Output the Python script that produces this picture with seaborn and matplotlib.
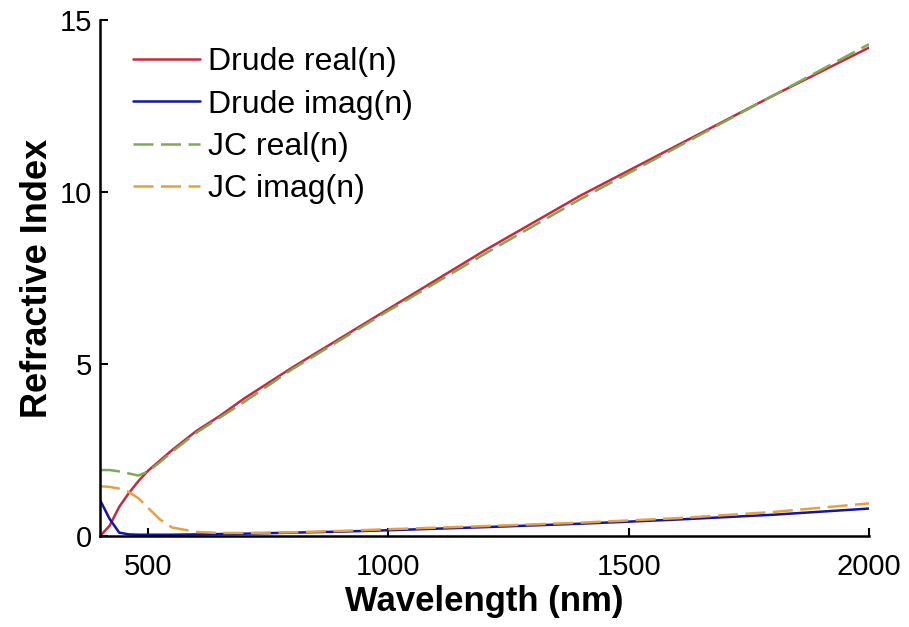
import numpy as np
import pandas as pd
import matplotlib
matplotlib.use("Agg")
import matplotlib.pyplot as plt
import seaborn as sns

# ---- data ----
wavelength = [400, 420, 440, 460, 480, 500, 525, 550, 600, 650, 700, 800, 900,
              1000, 1200, 1400, 1600, 1800, 2000]
drude_real = [0.0, 0.3, 0.85, 1.25, 1.6, 1.9, 2.2, 2.5, 3.05, 3.5, 4.0, 4.9, 5.75,
              6.6, 8.3, 9.9, 11.35, 12.8, 14.2]
drude_imag = [1.05, 0.5, 0.1, 0.05, 0.04, 0.04, 0.04, 0.04, 0.05, 0.06, 0.07, 0.1, 0.13,
              0.17, 0.26, 0.36, 0.48, 0.62, 0.8]
jc_real = [1.92, 1.92, 1.88, 1.82, 1.76, 1.88, 2.15, 2.45, 3.0, 3.45, 3.9, 4.85, 5.7,
           6.55, 8.2, 9.8, 11.3, 12.8, 14.3]
jc_imag = [1.45, 1.43, 1.38, 1.28, 1.1, 0.82, 0.48, 0.25, 0.12, 0.09, 0.09, 0.11, 0.15,
           0.2, 0.29, 0.39, 0.52, 0.7, 0.95]

series_names = ["Drude real(n)", "Drude imag(n)", "JC real(n)", "JC imag(n)"]
series_values = [drude_real, drude_imag, jc_real, jc_imag]
x_ticks = [500, 1000, 1500, 2000]
y_ticks = [0, 5, 10, 15]

df = pd.concat([pd.DataFrame({"Wavelength": wavelength, "n": vals, "series": name})
                for name, vals in zip(series_names, series_values)], ignore_index=True)

sns.set_style("ticks")
plt.rcParams["font.family"] = ["Liberation Sans", "DejaVu Sans"]
plt.rcParams["text.color"] = "black"
plt.rcParams["axes.labelcolor"] = "black"

palette = {"Drude real(n)": "#C8283F", "Drude imag(n)": "#1414A8",
           "JC real(n)": "#7DAA55", "JC imag(n)": "#E6A040"}
dashes = {"Drude real(n)": "", "Drude imag(n)": "",
          "JC real(n)": (8, 3), "JC imag(n)": (8, 3)}

fig = plt.figure(figsize=(9.09, 6.27), dpi=100)
ax = fig.add_axes([0.110, 0.145, 0.846, 0.823])

sns.lineplot(data=df, x="Wavelength", y="n", hue="series", style="series",
             hue_order=series_names, style_order=series_names,
             palette=palette, dashes=dashes, linewidth=1.8, ax=ax, sort=True)

ax.set_xlim(400, 2000)
ax.set_ylim(0, 15)
ax.set_xticks(x_ticks)
ax.set_yticks(y_ticks)
ax.tick_params(direction="in", length=6, width=1.5, labelsize=21, colors="black")
ax.tick_params(axis="x", pad=12)
ax.tick_params(axis="y", pad=6)
for s in ["top", "right"]:
    ax.spines[s].set_visible(False)
for s in ["left", "bottom"]:
    ax.spines[s].set_linewidth(1.8)
    ax.spines[s].set_color("black")

ax.set_xlabel("Wavelength (nm)", fontsize=25, fontweight="bold", labelpad=3)
ax.set_ylabel("Refractive Index", fontsize=26, fontweight="bold")
ax.yaxis.set_label_coords(-0.058, 0.5)

leg = ax.legend(loc="upper left", bbox_to_anchor=(0.043, 0.947), frameon=False,
                fontsize=23, borderpad=0, borderaxespad=0, handlelength=2.1,
                handletextpad=0.25, labelspacing=0.38)
for line in leg.get_lines():
    line.set_linewidth(1.8)
for t in leg.get_texts():
    t.set_color("black")

fig.savefig("out.png", dpi=100)
